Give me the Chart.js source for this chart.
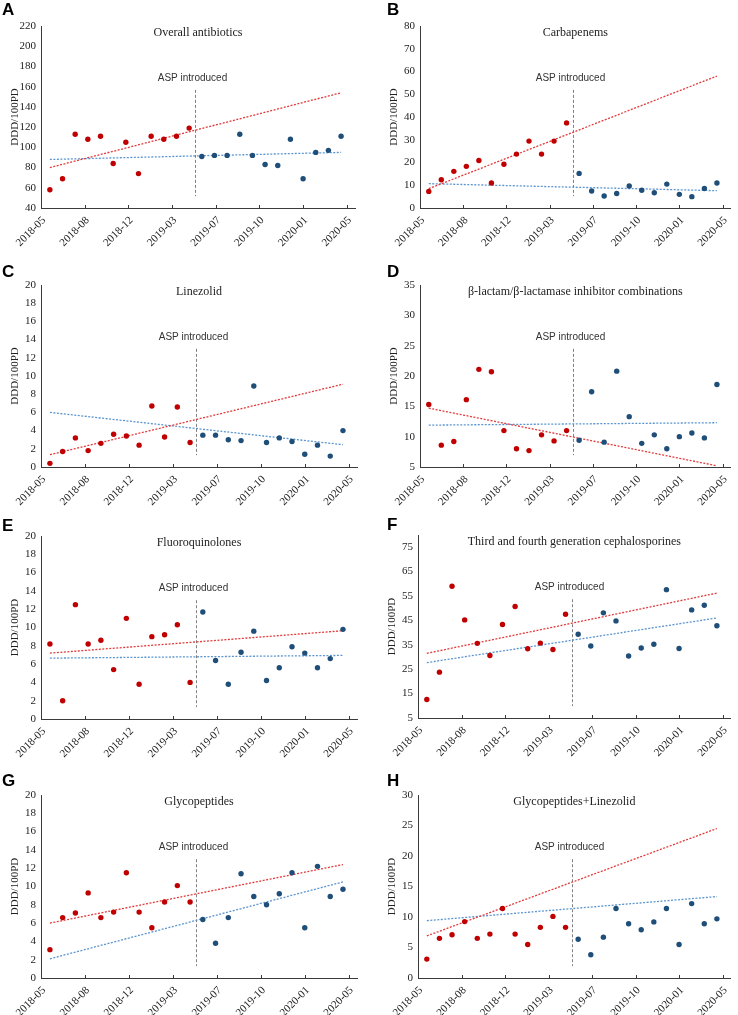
<!DOCTYPE html>
<html>
<head>
<meta charset="utf-8">
<script src="https://cdn.jsdelivr.net/npm/chart.js@4.4.1/dist/chart.umd.min.js"></script>
<style>
  body { margin: 0; background: #fff; }
  #page { position: relative; width: 738px; height: 1015px; overflow: hidden; }
  .panel { position: absolute; }
  .tag { position: absolute; font: bold 17px "Liberation Sans", Arial, sans-serif; line-height: 17px; color: #000; }
</style>
</head>
<body>
<div id="page"></div>
<script>
// months covered (12 before ASP, 12 after)
const months = ['2018-05', '2018-06', '2018-07', '2018-08', '2018-09', '2018-10', '2018-11', '2018-12',
  '2019-01', '2019-02', '2019-03', '2019-04', '2019-05', '2019-06', '2019-07', '2019-08',
  '2019-09', '2019-10', '2019-11', '2019-12', '2020-01', '2020-02', '2020-03', '2020-04'];
const xTickLabels = ['2018-05', '2018-08', '2018-12', '2019-03', '2019-07', '2019-10', '2020-01', '2020-05'];
const xTickPos = [0, 3.45, 6.9, 10.35, 13.8, 17.25, 20.7, 24.15];
const aspMonth = 12.2;
const pointOffset = 0.7;

// A
const overallPre = [58, 69, 113, 108, 111, 84, 105, 74, 111, 108, 111, 119];
const overallPost = [91, 92, 92, 113, 92, 83, 82, 108, 69, 95, 97, 111];
const overallTrendPre = [80, 154];
const overallTrendPost = [88, 95];
// B
const carbaPre = [7.3, 12.4, 16.1, 18.3, 20.9, 11, 19.2, 23.7, 29.4, 23.7, 29.4, 37.4];
const carbaPost = [15.2, 7.5, 5.3, 6.4, 9.7, 7.8, 6.7, 10.5, 6, 5, 8.6, 11];
const carbaTrendPre = [8.5, 58];
const carbaTrendPost = [10.7, 7.6];
// C
const linezolidPre = [0.4, 1.7, 3.2, 1.8, 2.6, 3.6, 3.4, 2.4, 6.7, 3.3, 6.6, 2.7];
const linezolidPost = [3.5, 3.5, 3.0, 2.9, 8.9, 2.7, 3.2, 2.8, 1.4, 2.4, 1.2, 4.0];
const linezolidTrendPre = [1.35, 9.1];
const linezolidTrendPost = [6.0, 2.45];
// D
const blblPre = [15.3, 8.6, 9.2, 16.1, 21.1, 20.7, 11, 8, 7.7, 10.3, 9.3, 11];
const blblPost = [9.4, 17.4, 9.1, 20.8, 13.3, 8.9, 10.3, 8.0, 10, 10.6, 9.8, 18.6];
const blblTrendPre = [14.7, 5.2];
const blblTrendPost = [11.9, 12.3];
// E
const fluoroPre = [8.2, 2.0, 12.5, 8.2, 8.6, 5.4, 11.0, 3.8, 9.0, 9.2, 10.3, 4.0];
const fluoroPost = [11.7, 6.4, 3.8, 7.3, 9.6, 4.2, 5.6, 7.9, 7.2, 5.6, 6.6, 9.8];
const fluoroTrendPre = [7.2, 9.65];
const fluoroTrendPost = [6.65, 6.95];
// F
const cephPre = [12.6, 23.8, 59, 45.2, 35.6, 30.6, 43.3, 50.7, 33.4, 35.7, 33.1, 47.5];
const cephPost = [39.3, 34.5, 48.1, 44.8, 30.4, 33.7, 35.2, 57.6, 33.5, 49.3, 51.2, 42.8];
const cephTrendPre = [31.5, 56.2];
const cephTrendPost = [27.7, 46];
// G
const glycoPre = [3.1, 6.6, 7.1, 9.3, 6.6, 7.2, 11.5, 7.2, 5.5, 8.3, 10.1, 8.3];
const glycoPost = [6.4, 3.8, 6.6, 11.4, 8.9, 8.0, 9.2, 11.5, 5.5, 12.2, 8.9, 9.7];
const glycoTrendPre = [6.0, 12.4];
const glycoTrendPost = [2.1, 10.5];
// H
const glycoLinPre = [3.1, 6.5, 7.1, 9.25, 6.5, 7.2, 11.4, 7.2, 5.5, 8.3, 10.1, 8.3];
const glycoLinPost = [6.35, 3.8, 6.7, 11.4, 8.9, 7.9, 9.2, 11.4, 5.5, 12.2, 8.9, 9.7];
const glycoLinTrendPre = [6.9, 24.5];
const glycoLinTrendPost = [9.4, 13.35];

const SERIF = '"Liberation Serif", "Times New Roman", serif';
const SANS = '"Liberation Sans", Arial, sans-serif';
const RED = '#C00000';
const BLUE = '#1F4E79';
const RED_LINE = '#E23B3B';
const BLUE_LINE = '#5B95CF';
const AXIS = '#3a3a3a';
const TEXT = '#222';

const panels = [
  { tag: 'A', title: 'Overall antibiotics', pre: overallPre, post: overallPost, trendPre: overallTrendPre, trendPost: overallTrendPost,
    yMin: 40, yMax: 220, yStep: 20, box: [0, 0, 369, 254], plot: [41, 26, 355, 208], yTitleX: 15, tagPos: [2, 1] },
  { tag: 'B', title: 'Carbapenems', pre: carbaPre, post: carbaPost, trendPre: carbaTrendPre, trendPost: carbaTrendPost,
    yMin: 0, yMax: 80, yStep: 10, box: [369, 0, 369, 254], plot: [51, 26, 366, 208], yTitleX: 25, tagPos: [387, 1] },
  { tag: 'C', title: 'Linezolid', pre: linezolidPre, post: linezolidPost, trendPre: linezolidTrendPre, trendPost: linezolidTrendPost,
    yMin: 0, yMax: 20, yStep: 2, box: [0, 254, 369, 254], plot: [41, 31, 357, 213], yTitleX: 15, tagPos: [2, 263] },
  { tag: 'D', title: 'β-lactam/β-lactamase inhibitor combinations', pre: blblPre, post: blblPost, trendPre: blblTrendPre, trendPost: blblTrendPost,
    yMin: 5, yMax: 35, yStep: 5, box: [369, 254, 369, 254], plot: [51, 31, 366, 213], yTitleX: 25, tagPos: [387, 263] },
  { tag: 'E', title: 'Fluoroquinolones', pre: fluoroPre, post: fluoroPost, trendPre: fluoroTrendPre, trendPost: fluoroTrendPost,
    yMin: 0, yMax: 20, yStep: 2, box: [0, 508, 369, 254], plot: [41, 28, 357, 211], yTitleX: 15, tagPos: [2, 517] },
  { tag: 'F', title: 'Third and fourth generation cephalosporines', pre: cephPre, post: cephPost, trendPre: cephTrendPre, trendPost: cephTrendPost,
    yMin: 5, yMax: 80, yStep: 10, box: [369, 508, 369, 254], plot: [49, 27, 365, 210], yTitleX: 23, tagPos: [387, 516] },
  { tag: 'G', title: 'Glycopeptides', pre: glycoPre, post: glycoPost, trendPre: glycoTrendPre, trendPost: glycoTrendPost,
    yMin: 0, yMax: 20, yStep: 2, box: [0, 762, 369, 253], plot: [41, 33, 357, 216], yTitleX: 15, tagPos: [2, 772] },
  { tag: 'H', title: 'Glycopeptides+Linezolid', pre: glycoLinPre, post: glycoLinPost, trendPre: glycoLinTrendPre, trendPost: glycoLinTrendPost,
    yMin: 0, yMax: 30, yStep: 5, box: [369, 762, 369, 253], plot: [49, 33, 366, 216], yTitleX: 23, tagPos: [387, 772] }
];

// panel title, inward x ticks, ASP marker
const overlay = {
  id: 'overlay',
  beforeDatasetsDraw(chart) {
    const opts = chart.options.plugins.overlay;
    const { ctx, chartArea: a, scales: { x } } = chart;
    const h = a.bottom - a.top;
    ctx.save();
    ctx.fillStyle = TEXT;
    ctx.font = '12px ' + SERIF;
    ctx.textAlign = 'center';
    ctx.textBaseline = 'middle';
    ctx.fillText(opts.title, (a.left + a.right) / 2, a.top + 7);

    ctx.strokeStyle = AXIS;
    ctx.lineWidth = 1;
    x.ticks.forEach(t => {
      const px = Math.round(x.getPixelForValue(t.value)) + 0.5;
      ctx.beginPath();
      ctx.moveTo(px, a.bottom);
      ctx.lineTo(px, a.bottom - 3);
      ctx.stroke();
    });

    const ax = Math.round(x.getPixelForValue(aspMonth)) + 0.5;
    ctx.strokeStyle = '#808080';
    ctx.setLineDash([3, 2]);
    ctx.beginPath();
    ctx.moveTo(ax, a.bottom - 0.649 * h);
    ctx.lineTo(ax, a.bottom - 0.065 * h);
    ctx.stroke();
    ctx.setLineDash([]);

    ctx.font = '10px ' + SANS;
    ctx.fillStyle = '#333';
    ctx.fillText('ASP introduced', ax - 3, a.bottom - 0.715 * h);
    ctx.restore();
  }
};

function makePanel(p) {
  const page = document.getElementById('page');
  const [bx, by, bw, bh] = p.box;
  const [pl, pt, pr, pb] = p.plot;

  const wrap = document.createElement('div');
  wrap.className = 'panel';
  wrap.style.left = bx + 'px';
  wrap.style.top = by + 'px';
  wrap.style.width = bw + 'px';
  wrap.style.height = bh + 'px';
  const canvas = document.createElement('canvas');
  canvas.width = bw;
  canvas.height = bh;
  canvas.style.width = bw + 'px';
  canvas.style.height = bh + 'px';
  wrap.appendChild(canvas);
  page.appendChild(wrap);

  const tag = document.createElement('div');
  tag.className = 'tag';
  tag.textContent = p.tag;
  tag.style.left = p.tagPos[0] + 'px';
  tag.style.top = p.tagPos[1] + 'px';
  page.appendChild(tag);

  const xs = months.map((m, i) => i + pointOffset);
  const last = xs.length - 1;

  new Chart(canvas, {
    type: 'scatter',
    data: {
      datasets: [
        { data: p.pre.map((v, i) => ({ x: xs[i], y: v })), backgroundColor: RED, borderWidth: 0, pointRadius: 2.7 },
        { data: p.post.map((v, i) => ({ x: xs[i + p.pre.length], y: v })), backgroundColor: BLUE, borderWidth: 0, pointRadius: 2.7 },
        { data: [{ x: xs[0], y: p.trendPre[0] }, { x: xs[last], y: p.trendPre[1] }], showLine: true,
          borderColor: RED_LINE, borderWidth: 1.3, borderDash: [2, 1.5], pointRadius: 0 },
        { data: [{ x: xs[0], y: p.trendPost[0] }, { x: xs[last], y: p.trendPost[1] }], showLine: true,
          borderColor: BLUE_LINE, borderWidth: 1.3, borderDash: [2, 1.5], pointRadius: 0 }
      ]
    },
    options: {
      responsive: false,
      animation: false,
      devicePixelRatio: 1,
      layout: { padding: { left: 0, top: pt, right: bw - pr, bottom: 0 } },
      plugins: {
        legend: { display: false },
        tooltip: { enabled: false },
        overlay: { title: p.title }
      },
      scales: {
        x: {
          type: 'linear',
          min: 0,
          max: 24.8,
          afterBuildTicks: s => { s.ticks = xTickPos.map(v => ({ value: v })); },
          afterFit: s => { s.height = bh - pb; },
          grid: { display: false, drawTicks: false },
          border: { color: AXIS, width: 1 },
          ticks: {
            autoSkip: false, minRotation: 45, maxRotation: 45, padding: 6, labelOffset: 3, color: TEXT,
            font: { family: SERIF, size: 11 },
            callback: (v, i) => xTickLabels[i]
          }
        },
        y: {
          min: p.yMin,
          max: p.yMax,
          afterBuildTicks: s => {
            const t = [];
            for (let v = p.yMin; v <= p.yMax + 1e-9; v += p.yStep) t.push({ value: v });
            s.ticks = t;
          },
          afterFit: s => { s.width = pl; },
          grid: { display: false, drawTicks: false },
          border: { color: AXIS, width: 1 },
          ticks: { padding: 5, color: TEXT, font: { family: SERIF, size: 11 } },
          title: {
            display: true, text: 'DDD/100PD', color: TEXT,
            font: { family: SERIF, size: 11 },
            padding: { top: p.yTitleX - 6.6, bottom: 0 }
          }
        }
      }
    },
    plugins: [overlay]
  });
}

panels.forEach(makePanel);
</script>
</body>
</html>
